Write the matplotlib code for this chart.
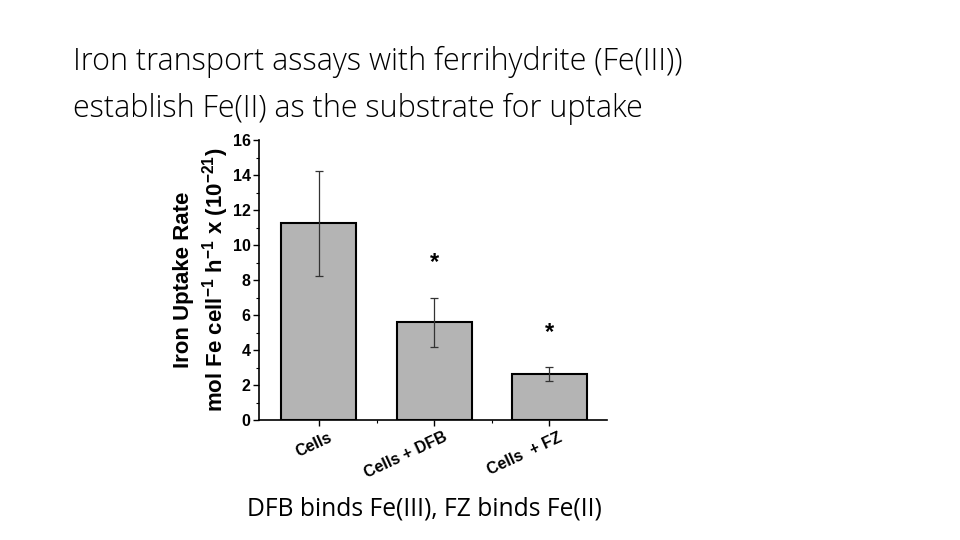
import matplotlib.pyplot as plt
from matplotlib.ticker import MultipleLocator
from matplotlib.transforms import ScaledTranslation

plt.rcParams["mathtext.fontset"] = "custom"
plt.rcParams["mathtext.rm"] = "Liberation Sans:bold"
plt.rcParams["mathtext.default"] = "rm"

title_lines = ["Iron transport assays with ferrihydrite (Fe(III))",
               "establish Fe(II) as the substrate for uptake"]
caption = "DFB binds Fe(III), FZ binds Fe(II)"
categories = ["Cells", "Cells + DFB", "Cells  + FZ"]
rates = [11.25, 5.6, 2.65]
errors = [3.0, 1.4, 0.4]
star_y = [None, 9.0, 5.0]

fig = plt.figure(figsize=(9.6, 5.4), dpi=100)

# slide title + caption
fig.text(73 / 960, 1 - 70 / 540, title_lines[0], fontsize=22, family="Open Sans",
         fontweight="light", va="baseline", ha="left")
fig.text(73 / 960, 1 - 117 / 540, title_lines[1], fontsize=22, family="Open Sans",
         fontweight="light", va="baseline", ha="left")
fig.text(247 / 960, 1 - 515 / 540, caption, fontsize=17.7, family="Open Sans",
         va="baseline", ha="left")

ax = fig.add_axes([259 / 960, 120 / 540, (607 - 259) / 960, 280 / 540])
x = range(len(categories))
ax.bar(x, rates, width=0.65, color="#b4b4b4", edgecolor="black", linewidth=1.5, zorder=2)
ax.errorbar(x, rates, yerr=errors, fmt="none", ecolor="#333333", elinewidth=0.9,
            capsize=3, capthick=0.9, zorder=3)
for i, s in enumerate(star_y):
    if s is not None:
        ax.text(i, s, "*", ha="center", va="center", fontsize=17, fontweight="bold",
                family="Liberation Sans")

ax.set_xlim(-0.52, 2.5)
ax.set_ylim(0, 16)
ax.set_xticks(list(x))
ax.xaxis.set_minor_locator(plt.FixedLocator([0.5, 1.5]))
ax.yaxis.set_major_locator(MultipleLocator(2))
ax.yaxis.set_minor_locator(MultipleLocator(1))
ax.tick_params(axis="both", which="major", length=4, width=1)
ax.tick_params(axis="y", which="major", pad=2)
ax.tick_params(axis="x", which="major", pad=3)
ax.tick_params(axis="both", which="minor", length=2.5, width=0.8)
ax.set_xticklabels(categories, rotation=25, ha="right", fontsize=11.5, fontweight="bold",
                   family="Liberation Sans")
shift = ScaledTranslation(0.15, 0, fig.dpi_scale_trans)
for lab in ax.get_xticklabels():
    lab.set_transform(lab.get_transform() + shift)
for lab in ax.get_yticklabels():
    lab.set_fontweight("bold")
    lab.set_family("Liberation Sans")
    lab.set_fontsize(11.5)
ax.spines["top"].set_visible(False)
ax.spines["right"].set_visible(False)
ax.spines["left"].set_linewidth(1.2)
ax.spines["bottom"].set_linewidth(1.2)

ax.set_ylabel("Iron Uptake Rate\nmol Fe cell$^{-1}$ h$^{-1}$ x (10$^{-21}$)",
              fontsize=16, fontweight="bold", family="Liberation Sans", linespacing=1.3,
              labelpad=1)

fig.savefig("out.png", dpi=100)
